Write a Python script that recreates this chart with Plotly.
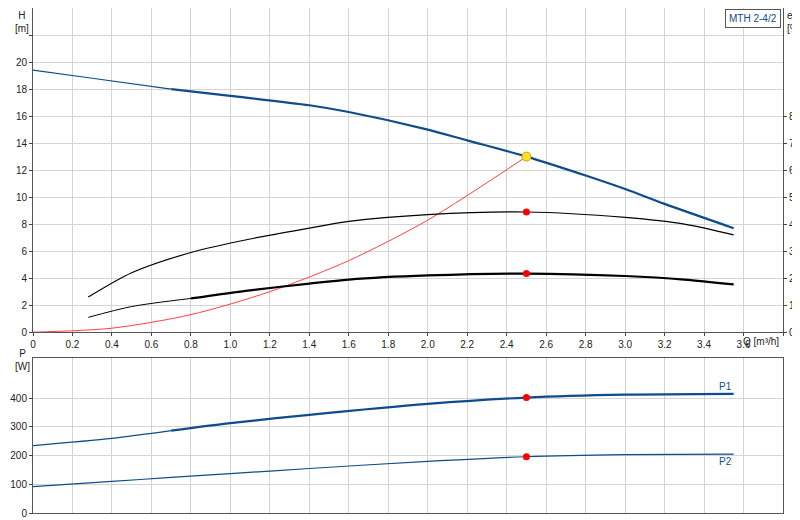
import plotly.graph_objects as go

q_h = [0, 0.3, 0.7, 1.0, 1.4, 1.6, 2.0, 2.2, 2.5, 2.8, 3.0, 3.2, 3.55]
h = [19.4, 18.8, 18.0, 17.5, 16.8, 16.3, 15.0, 14.2, 13.0, 11.6, 10.6, 9.5, 7.7]
q_e = [0.28, 0.5, 0.8, 1.1, 1.4, 1.6, 2.0, 2.5, 3.0, 3.3, 3.55]
eta1 = [13, 22, 29.5, 34.5, 38.5, 41, 43.5, 44.5, 42.5, 40, 36]
eta2 = [5.5, 9.5, 12.5, 15.5, 18, 19.5, 21, 21.7, 20.8, 19.5, 17.7]
q_s = [0, 0.4, 0.8, 1.2, 1.6, 2.0, 2.5]
h_s = [0, 0.3, 1.3, 3.0, 5.3, 8.3, 13.0]
q_p = [0, 0.4, 0.7, 1.0, 1.4, 2.0, 2.5, 3.0, 3.55]
p1 = [235, 260, 287, 313, 342, 380, 402, 412, 415]
p2 = [92, 110, 124, 137, 155, 180, 196, 203, 205]
duty_q = 2.5

blue = "#0f4c8a"
fig = go.Figure()
def idx(qs, v): return qs.index(v)
sp = dict(shape="spline", smoothing=0.8)
i = idx(q_h, 0.7)
fig.add_trace(go.Scatter(x=q_h[:i+1], y=h[:i+1], mode="lines", line=dict(color=blue, width=1.2, **sp), xaxis="x", yaxis="y"))
fig.add_trace(go.Scatter(x=q_h[i:], y=h[i:], mode="lines", line=dict(color=blue, width=2.2, **sp), xaxis="x", yaxis="y"))
fig.add_trace(go.Scatter(x=q_s, y=h_s, mode="lines", line=dict(color="#ff4040", width=1, **sp), xaxis="x", yaxis="y"))
fig.add_trace(go.Scatter(x=q_e, y=eta1, mode="lines", line=dict(color="black", width=1.2, **sp), xaxis="x", yaxis="y2"))
j = 2
fig.add_trace(go.Scatter(x=q_e[:j+1], y=eta2[:j+1], mode="lines", line=dict(color="black", width=1, **sp), xaxis="x", yaxis="y2"))
fig.add_trace(go.Scatter(x=q_e[j:], y=eta2[j:], mode="lines", line=dict(color="black", width=2.2, **sp), xaxis="x", yaxis="y2"))
fig.add_trace(go.Scatter(x=[duty_q, duty_q], y=[eta1[idx(q_e,2.5)], eta2[idx(q_e,2.5)]], mode="markers", marker=dict(color="red", size=7), xaxis="x", yaxis="y2"))
fig.add_trace(go.Scatter(x=[duty_q], y=[h[idx(q_h,2.5)]], mode="markers", marker=dict(color="#ffe020", size=9, line=dict(color="#c8a000", width=1)), xaxis="x", yaxis="y"))
k = idx(q_p, 0.7)
fig.add_trace(go.Scatter(x=q_p[:k+1], y=p1[:k+1], mode="lines", line=dict(color=blue, width=1.2, **sp), xaxis="x2", yaxis="y3"))
fig.add_trace(go.Scatter(x=q_p[k:], y=p1[k:], mode="lines", line=dict(color=blue, width=2.2, **sp), xaxis="x2", yaxis="y3"))
fig.add_trace(go.Scatter(x=q_p, y=p2, mode="lines", line=dict(color=blue, width=1.2, **sp), xaxis="x2", yaxis="y3"))
ip = idx(q_p, 2.5)
fig.add_trace(go.Scatter(x=[duty_q, duty_q], y=[p1[ip], p2[ip]], mode="markers", marker=dict(color="red", size=7), xaxis="x2", yaxis="y3"))

grid = "#d4d4d4"
fig.update_layout(
    width=800, height=520, showlegend=False, plot_bgcolor="white", paper_bgcolor="white",
    margin=dict(l=25, r=25, t=0, b=15, autoexpand=False), font=dict(family="Arial, Liberation Sans", size=10, color="#222"),
    xaxis=dict(range=[0, 3.8], gridcolor=grid, showline=True, linecolor="#555", mirror=True, zeroline=False, automargin=False,
               tickvals=[i/5 for i in range(20)], ticktext=[(f"{i/5:.1f}" if i > 0 else "0") if i < 19 else "" for i in range(20)],
               ticks="outside", ticklen=3, anchor="y"),
    yaxis=dict(domain=[0.358, 1], range=[0, 24], tickvals=list(range(0, 23, 2)), ticktext=[str(v) if v <= 20 else "" for v in range(0, 23, 2)],
               gridcolor=grid, showline=True, linecolor="#555", zeroline=False, ticks="outside", ticklen=3, automargin=False),
    yaxis2=dict(overlaying="y", side="right", range=[0, 120], tickvals=list(range(0, 81, 10)), showgrid=False, zeroline=False,
                ticks="outside", ticklen=3, automargin=False, showline=True, linecolor="#555"),
    xaxis2=dict(range=[0, 3.8], tickvals=[i/5 for i in range(20)], gridcolor=grid, showline=True, linecolor="#555", mirror=True,
                zeroline=False, showticklabels=False, anchor="y3", automargin=False),
    yaxis3=dict(domain=[0, 0.307], range=[0, 540], tickvals=[0, 100, 200, 300, 400], gridcolor=grid, showline=True, linecolor="#555",
                mirror=True, zeroline=False, ticks="outside", ticklen=3, automargin=False),
)
fig.add_annotation(x=0, y=1.0, xref="paper", yref="paper", text="H<br>[m]", showarrow=False, xanchor="left", yanchor="top", xshift=-20, align="center")
fig.add_annotation(x=1, y=1.0, xref="paper", yref="paper", text="eta<br>[%]", showarrow=False, xanchor="left", yanchor="top", xshift=2, align="left")
fig.add_annotation(x=1, y=0.358, xref="paper", yref="paper", text="Q [m³/h]", showarrow=False, xanchor="right", yanchor="top", yshift=-2, xshift=-2)
fig.add_annotation(x=0, y=0.307, xref="paper", yref="paper", text="P<br>[W]", showarrow=False, xanchor="left", yanchor="top", xshift=-20, yshift=12, align="center")
fig.add_annotation(x=0.997, y=0.998, xref="paper", yref="paper", text="MTH 2-4/2", showarrow=False, xanchor="right", yanchor="top", bordercolor="#555", borderwidth=1, bgcolor="white", borderpad=3, font=dict(color="#0f4c8a", size=10))
fig.add_annotation(x=q_p[-1], y=p1[-1], xref="x2", yref="y3", text="P1", showarrow=False, xanchor="right", yanchor="bottom", font=dict(color=blue))
fig.add_annotation(x=q_p[-1], y=p2[-1], xref="x2", yref="y3", text="P2", showarrow=False, xanchor="right", yanchor="top", font=dict(color=blue))
fig.write_html("out.html")
